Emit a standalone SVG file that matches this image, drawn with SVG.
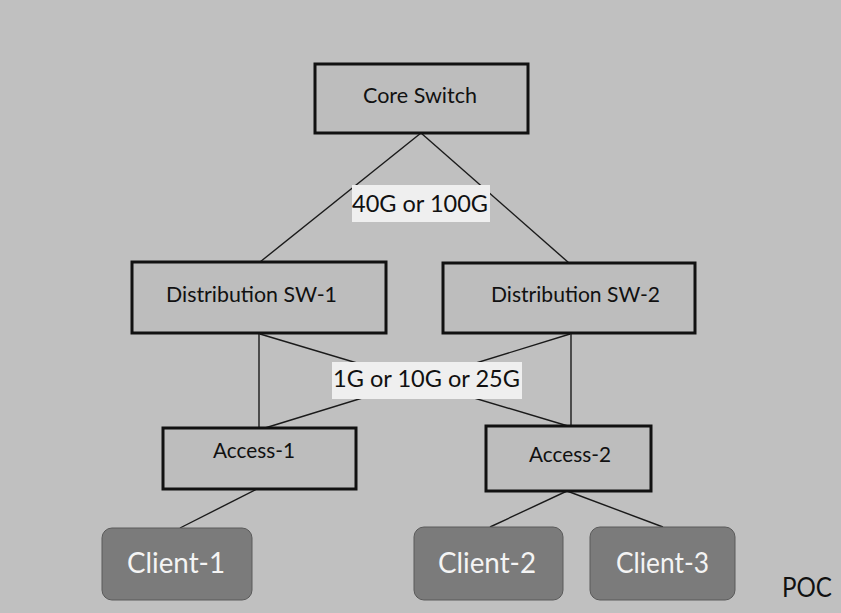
<svg xmlns="http://www.w3.org/2000/svg" width="841" height="613" viewBox="0 0 841 613">
<style>
.box{fill:#bdbdbd;stroke:#111;stroke-width:3}
.cli{fill:#7b7b7b;stroke:#5a5a5a;stroke-width:1}
.t{font-family:Lato,"Open Sans","Liberation Sans",sans-serif;font-size:22px;fill:#111;text-anchor:middle}
.ct{font-family:Lato,"Open Sans","Liberation Sans",sans-serif;font-size:29px;fill:#f4f4f4;text-anchor:middle}
.lbl{fill:#efefef}
.conn line{stroke:#1a1a1a;stroke-width:1.4}
</style>
<rect x="0" y="0" width="841" height="613" fill="#c0c0c0"/>
<g id="connectors" class="conn">
<line x1="421" y1="133" x2="260" y2="262"/>
<line x1="421" y1="133" x2="569" y2="263"/>
<line x1="259" y1="333" x2="259" y2="428"/>
<line x1="260" y1="334" x2="568" y2="426"/>
<line x1="571" y1="333" x2="571" y2="426"/>
<line x1="570" y1="334" x2="265" y2="428"/>
<line x1="257" y1="489" x2="180" y2="528"/>
<line x1="567" y1="491" x2="490" y2="527"/>
<line x1="567" y1="491" x2="663" y2="527"/>
</g>
<g id="label-40g">
<rect class="lbl" x="352" y="185" width="138" height="37"/>
<text class="t" x="420" y="212" style="font-size:23px" textLength="136" lengthAdjust="spacingAndGlyphs">40G or 100G</text>
</g>
<g id="label-1g">
<rect class="lbl" x="332" y="362" width="190" height="37"/>
<text class="t" x="426.5" y="387" style="font-size:23px" textLength="187" lengthAdjust="spacingAndGlyphs">1G or 10G or 25G</text>
</g>
<g id="core">
<rect class="box" x="315" y="64" width="213" height="69"/>
<text class="t" x="420" y="103" textLength="114" lengthAdjust="spacingAndGlyphs">Core Switch</text>
</g>
<g id="dist1">
<rect class="box" x="132" y="262" width="254" height="71"/>
<text class="t" x="251.5" y="302" textLength="171" lengthAdjust="spacingAndGlyphs">Distribution SW-1</text>
</g>
<g id="dist2">
<rect class="box" x="443" y="263" width="252" height="70"/>
<text class="t" x="575.5" y="302" textLength="169" lengthAdjust="spacingAndGlyphs">Distribution SW-2</text>
</g>
<g id="access1">
<rect class="box" x="163" y="428" width="193" height="61"/>
<text class="t" x="254" y="458" textLength="82" lengthAdjust="spacingAndGlyphs">Access-1</text>
</g>
<g id="access2">
<rect class="box" x="486" y="426" width="165" height="65"/>
<text class="t" x="570" y="462" textLength="82" lengthAdjust="spacingAndGlyphs">Access-2</text>
</g>
<g id="client1">
<rect class="cli" x="102" y="528" width="150" height="72" rx="10"/>
<text class="ct" x="176" y="573" textLength="98" lengthAdjust="spacingAndGlyphs">Client-1</text>
</g>
<g id="client2">
<rect class="cli" x="414" y="527" width="149" height="73" rx="10"/>
<text class="ct" x="487" y="573" textLength="98" lengthAdjust="spacingAndGlyphs">Client-2</text>
</g>
<g id="client3">
<rect class="cli" x="590" y="527" width="145" height="73" rx="10"/>
<text class="ct" x="662.5" y="573" textLength="93" lengthAdjust="spacingAndGlyphs">Client-3</text>
</g>
<text class="t" x="807" y="597" style="font-size:27px" textLength="50" lengthAdjust="spacingAndGlyphs">POC</text>
</svg>
